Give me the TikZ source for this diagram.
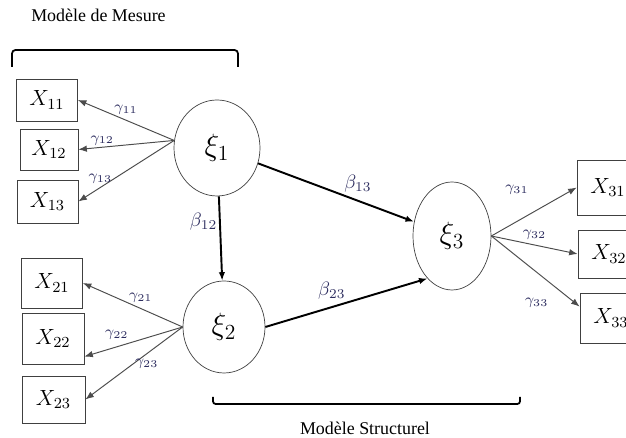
\RequirePackage{fix-cm}
\documentclass[tikz,border=0pt]{standalone}
\usepackage{fontspec}
\setmainfont{Liberation Serif}
\usetikzlibrary{arrows.meta}
\usetikzlibrary{shapes.geometric}
\definecolor{lblcol}{RGB}{45,45,95}

\begin{document}
\begin{tikzpicture}[>/.tip={Latex[length=1.7mm,width=1.3mm]},
	mvar/.style={draw=black!75,minimum width=1.22cm,minimum height=0.86cm,font=\fontsize{12.5}{14}\selectfont},
	lvar/.style={draw=black!75,shape=ellipse,inner sep=0pt,font=\fontsize{17.5}{20}\selectfont},
	gam/.style={font=\fontsize{8.5}{10}\selectfont,text=lblcol,inner sep=1pt},
	bet/.style={font=\fontsize{11}{13}\selectfont,text=lblcol,inner sep=1pt},
	meas/.style={->,draw=black!70,line width=0.55pt},
	struc/.style={->,line width=1.1pt}]
	\useasboundingbox (0,0) rectangle (12.52,8.76);
	% titles and brackets
	\draw (1.97,8.46) node (mesure) {\fontsize{10.2}{12}\selectfont Modèle de Mesure};
	\draw (7.30,0.20) node (struct) {\fontsize{10.2}{12}\selectfont Modèle Structurel};
	\draw[line width=1pt,rounded corners=2pt] (0.24,7.42) -- (0.24,7.76) -- (4.76,7.76) -- (4.76,7.42);
	\draw[line width=1pt,rounded corners=1.5pt] (4.26,0.82) -- (4.26,0.68) -- (10.4,0.68) -- (10.4,0.82);
	% latent variables
	\draw (4.34,5.80) node (xi1) [lvar,minimum width=1.72cm,minimum height=1.92cm] {$\xi_1$};
	\draw (4.48,2.22) node (xi2) [lvar,minimum width=1.64cm,minimum height=1.84cm] {$\xi_2$};
	\draw (9.04,4.04) node (xi3) [lvar,minimum width=1.56cm,minimum height=2.16cm] {$\xi_3$};
	% indicators
	\draw (0.94,6.76) node (X11) [mvar,minimum height=0.84cm] {$X_{11}$};
	\draw (0.98,5.77) node (X12) [mvar,minimum width=1.16cm,minimum height=0.82cm] {$X_{12}$};
	\draw (0.95,4.73) node (X13) [mvar] {$X_{13}$};
	\draw (1.04,3.10) node (X21) [mvar,minimum height=1.0cm] {$X_{21}$};
	\draw (1.06,1.99) node (X22) [mvar,minimum width=1.24cm,minimum height=1.02cm] {$X_{22}$};
	\draw (1.07,0.77) node (X23) [mvar,minimum width=1.26cm,minimum height=0.94cm] {$X_{23}$};
	\draw (12.16,5.01) node (X31) [mvar,minimum width=1.24cm,minimum height=1.1cm] {$X_{31}$};
	\draw (12.18,3.68) node (X32) [mvar,minimum width=1.24cm,minimum height=0.96cm] {$X_{32}$};
	\draw (12.22,2.40) node (X33) [mvar,minimum width=1.24cm,minimum height=1.0cm] {$X_{33}$};
	% measurement model
	\draw[meas] (xi1.170) -- node [gam,pos=.5,above=2pt] {$\gamma_{11}$} (X11.east);
	\draw[meas] (xi1.170) -- node [gam,pos=.75,above] {$\gamma_{12}$} (X12.east);
	\draw[meas] (xi1.170) -- node [gam,pos=.77,above=1pt] {$\gamma_{13}$} (X13.east);
	\draw[meas] (xi2.west) -- node [gam,pos=.42,above=2pt] {$\gamma_{21}$} (X21.east);
	\draw[meas] (xi2.west) -- node [gam,pos=.67,above=3pt] {$\gamma_{22}$} (X22.-30);
	\draw[meas] (xi2.west) -- node [gam,pos=.37,below=2pt] {$\gamma_{23}$} (X23.east);
	\draw[meas] (xi3.east) -- node [gam,pos=.3,above=0.5cm] {$\gamma_{31}$} (X31.west);
	\draw[meas] (xi3.east) -- node [gam,pos=.5,above=2pt] {$\gamma_{32}$} (X32.west);
	\draw[meas] (xi3.east) -- node [gam,pos=.75,below left=4pt] {$\gamma_{33}$} (X33.160);
	% structural model
	\draw[struc] (xi1) -- node [bet,pos=.3,left] {$\beta_{12}$} (xi2);
	\draw[struc] (xi1) -- node [bet,pos=.64,above=3pt] {$\beta_{13}$} (xi3);
	\draw[struc] (xi2.east) -- node [bet,pos=.41,above=3pt] {$\beta_{23}$} (xi3.240);
\end{tikzpicture}
\end{document}
